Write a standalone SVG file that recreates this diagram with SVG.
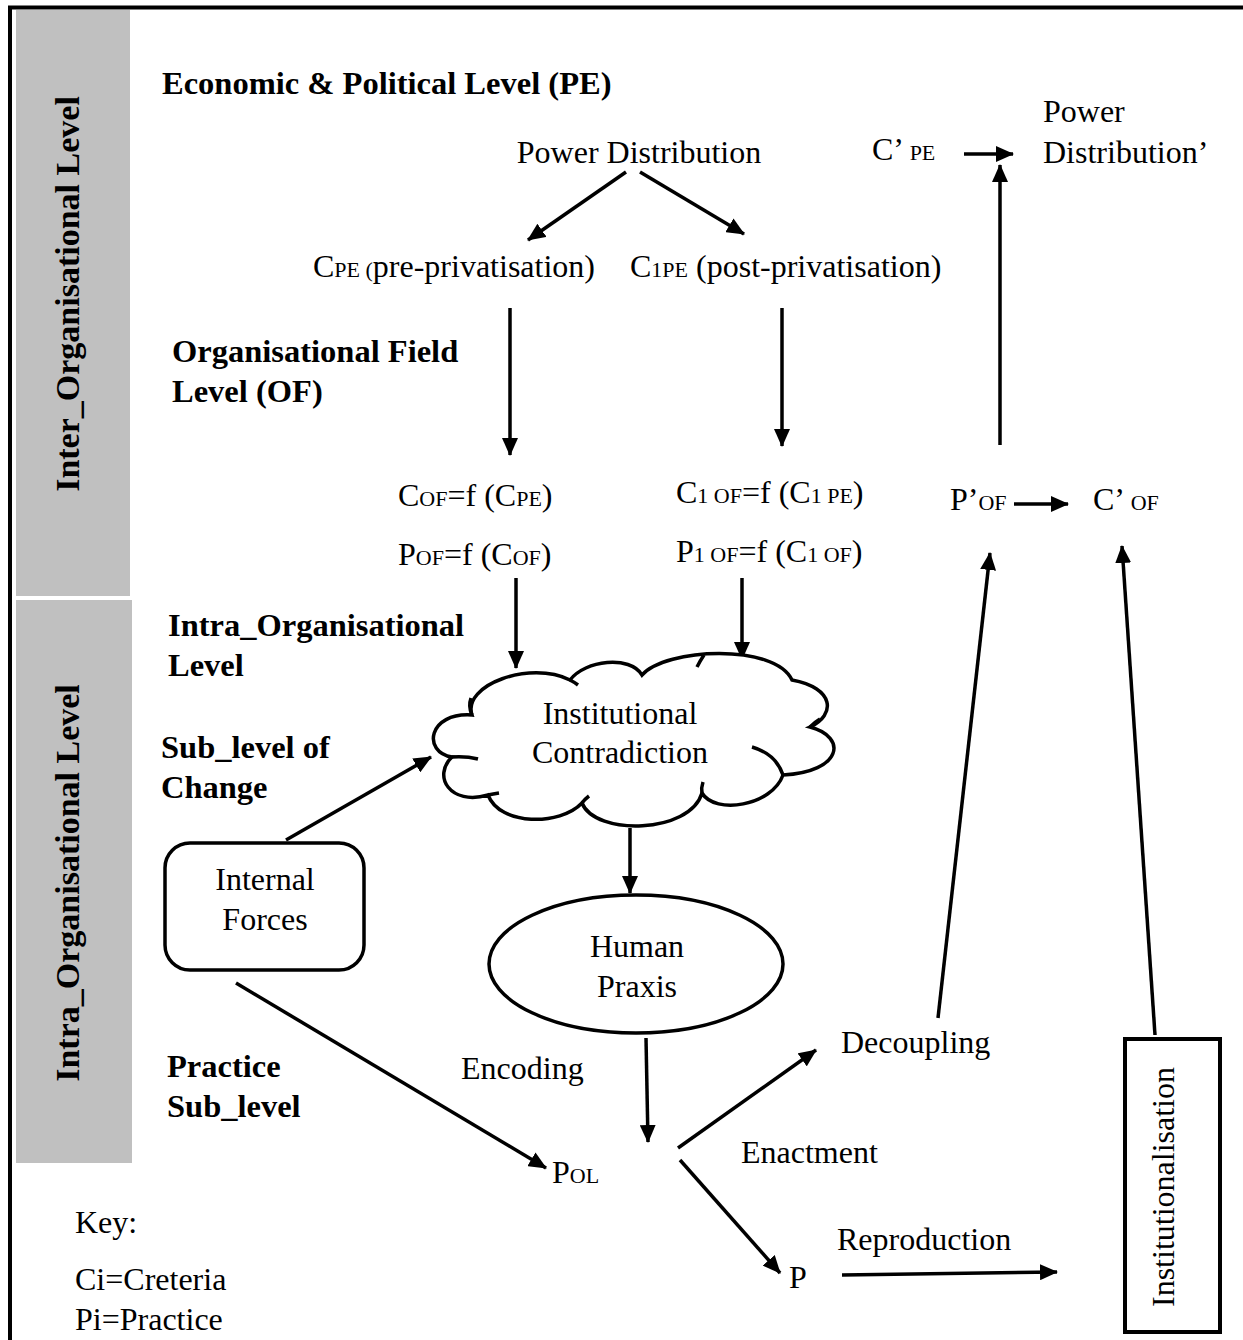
<svg xmlns="http://www.w3.org/2000/svg" width="1243" height="1340" viewBox="0 0 1243 1340">
  <defs>
    <marker id="arrow" markerUnits="userSpaceOnUse" markerWidth="18" markerHeight="16" refX="17" refY="8" orient="auto">
      <path d="M0,0 L18,8 L0,16 Z" fill="#000"/>
    </marker>
    <style>
      text { font-family: "Liberation Serif", "Times New Roman", serif; fill: #000; }
      .t { font-size: 32px; }
      .b { font-size: 32.5px; font-weight: bold; }
      .band { font-size: 34px; font-weight: bold; }
      .s { font-size: 22px; }
      .c { text-anchor: middle; }
      .edge { fill: none; stroke: #000; stroke-width: 3.5; marker-end: url(#arrow); }
      .shape { fill: #fff; stroke: #000; stroke-width: 3.5; }
      .tick { fill: none; stroke: #000; stroke-width: 3.5; }
    </style>
  </defs>

  <!-- page frame -->
  <path d="M10,1340 V7.5 H1243" fill="none" stroke="#000" stroke-width="4"/>

  <!-- level bands -->
  <g id="band-inter">
    <rect x="16" y="10" width="114" height="586" fill="#c0c0c0"/>
    <text class="band c" transform="translate(79,294) rotate(-90)">Inter_Organisational Level</text>
  </g>
  <g id="band-intra">
    <rect x="16" y="600" width="116" height="563" fill="#c0c0c0"/>
    <text class="band c" transform="translate(79,883) rotate(-90)">Intra_Organisational Level</text>
  </g>

  <!-- section headings -->
  <g id="headings">
    <text class="b" x="162" y="94">Economic &amp; Political Level (PE)</text>
    <text class="b" x="172" y="362">Organisational Field</text>
    <text class="b" x="172" y="402">Level (OF)</text>
    <text class="b" x="168" y="636">Intra_Organisational</text>
    <text class="b" x="168" y="676">Level</text>
    <text class="b" x="161" y="758">Sub_level of</text>
    <text class="b" x="161" y="798">Change</text>
    <text class="b" x="167" y="1077">Practice</text>
    <text class="b" x="167" y="1117">Sub_level</text>
  </g>

  <!-- connectors -->
  <g id="connectors">
    <line class="edge" x1="626" y1="172" x2="528" y2="240"/>
    <line class="edge" x1="640" y1="172" x2="744" y2="234"/>
    <line class="edge" x1="510" y1="308" x2="510" y2="455"/>
    <line class="edge" x1="782" y1="308" x2="782" y2="446"/>
    <line class="edge" x1="1000" y1="445" x2="1000" y2="165"/>
    <line class="edge" x1="964" y1="154" x2="1013" y2="154"/>
    <line class="edge" x1="1014" y1="504" x2="1068" y2="504"/>
    <line class="edge" x1="516" y1="578" x2="516" y2="668"/>
    <line class="edge" x1="742" y1="578" x2="742" y2="659"/>
    <line class="edge" x1="286" y1="840" x2="431" y2="757"/>
    <line class="edge" x1="630" y1="828" x2="630" y2="893"/>
    <line class="edge" x1="646" y1="1038" x2="648" y2="1142"/>
    <line class="edge" x1="236" y1="983" x2="546" y2="1168"/>
    <line class="edge" x1="678" y1="1148" x2="816" y2="1050"/>
    <line class="edge" x1="680" y1="1160" x2="780" y2="1273"/>
    <line class="edge" x1="842" y1="1275" x2="1057" y2="1272"/>
    <line class="edge" x1="938" y1="1018" x2="990" y2="553"/>
    <line class="edge" x1="1155" y1="1035" x2="1122" y2="546"/>
  </g>

  <!-- economic & political level -->
  <g id="power-distribution">
    <text class="t c" x="639" y="163">Power Distribution</text>
  </g>
  <g id="c-pe">
    <text class="t" x="313" y="277">C<tspan class="s">PE (</tspan>pre-privatisation)</text>
  </g>
  <g id="c1-pe">
    <text class="t" x="630" y="277">C<tspan class="s">1PE</tspan> (post-privatisation)</text>
  </g>
  <g id="c-prime-pe">
    <text class="t" x="872" y="160">C’ <tspan class="s">PE</tspan></text>
  </g>
  <g id="power-distribution-prime">
    <text class="t" x="1043" y="122">Power</text>
    <text class="t" x="1043" y="163">Distribution’</text>
  </g>

  <!-- organisational field level -->
  <g id="c-of">
    <text class="t" x="398" y="506">C<tspan class="s">OF</tspan>=f (C<tspan class="s">PE</tspan>)</text>
  </g>
  <g id="p-of">
    <text class="t" x="398" y="565">P<tspan class="s">OF</tspan>=f (C<tspan class="s">OF</tspan>)</text>
  </g>
  <g id="c1-of">
    <text class="t" x="676" y="503">C<tspan class="s">1 OF</tspan>=f (C<tspan class="s">1 PE</tspan>)</text>
  </g>
  <g id="p1-of">
    <text class="t" x="676" y="562">P<tspan class="s">1 OF</tspan>=f (C<tspan class="s">1 OF</tspan>)</text>
  </g>
  <g id="p-prime-of">
    <text class="t" x="950" y="510">P’<tspan class="s">OF</tspan></text>
  </g>
  <g id="c-prime-of">
    <text class="t" x="1093" y="510">C’ <tspan class="s">OF</tspan></text>
  </g>

  <!-- intra-organisational level -->
  <g id="institutional-contradiction">
    <path class="shape" d="M472,715
      C462,685 530,660 570,680
      C585,660 630,655 642,675
      C665,648 775,643 792,680
      C835,688 836,715 810,727
      C848,737 842,772 783,775
      C772,806 715,815 702,793
      C690,834 595,836 582,803
      C560,826 500,826 488,795
      C450,806 432,776 452,757
      C422,752 428,712 472,715 Z"/>
    <path class="tick" d="M752,747 Q776,754 783,775"/>
    <path class="tick" d="M452,757 Q466,756 478,759"/>
    <path class="tick" d="M472,715 Q468,706 471,698"/>
    <path class="tick" d="M570,680 Q574,682 578,685"/>
    <path class="tick" d="M704,655 Q700,661 697,667"/>
    <path class="tick" d="M702,793 Q701,788 703,782"/>
    <path class="tick" d="M582,803 Q585,799 589,796"/>
    <path class="tick" d="M488,795 Q493,794 499,793"/>
    <path class="tick" d="M810,727 Q815,722 820,719"/>
    <text class="t c" x="620" y="724">Institutional</text>
    <text class="t c" x="620" y="763">Contradiction</text>
  </g>
  <g id="internal-forces">
    <rect class="shape" x="165" y="843" width="199" height="127" rx="25" ry="25"/>
    <text class="t c" x="265" y="890">Internal</text>
    <text class="t c" x="265" y="930">Forces</text>
  </g>
  <g id="human-praxis">
    <ellipse class="shape" cx="636" cy="964" rx="147" ry="69"/>
    <text class="t c" x="637" y="957">Human</text>
    <text class="t c" x="637" y="997">Praxis</text>
  </g>
  <g id="p-ol">
    <text class="t" x="552" y="1183">P<tspan class="s">OL</tspan></text>
  </g>
  <g id="p">
    <text class="t" x="789" y="1288">P</text>
  </g>
  <g id="decoupling">
    <text class="t" x="841" y="1053">Decoupling</text>
  </g>
  <g id="institutionalisation">
    <rect x="1125" y="1039" width="95" height="293" fill="#fff" stroke="#000" stroke-width="4"/>
    <text class="t c" transform="translate(1174,1187) rotate(-90)">Institutionalisation</text>
  </g>

  <!-- edge labels -->
  <g id="edge-labels">
    <text class="t" x="461" y="1079">Encoding</text>
    <text class="t" x="741" y="1163">Enactment</text>
    <text class="t" x="837" y="1250">Reproduction</text>
  </g>

  <!-- key -->
  <g id="key">
    <text class="t" x="75" y="1233">Key:</text>
    <text class="t" x="75" y="1290">Ci=Creteria</text>
    <text class="t" x="75" y="1330">Pi=Practice</text>
  </g>
</svg>
